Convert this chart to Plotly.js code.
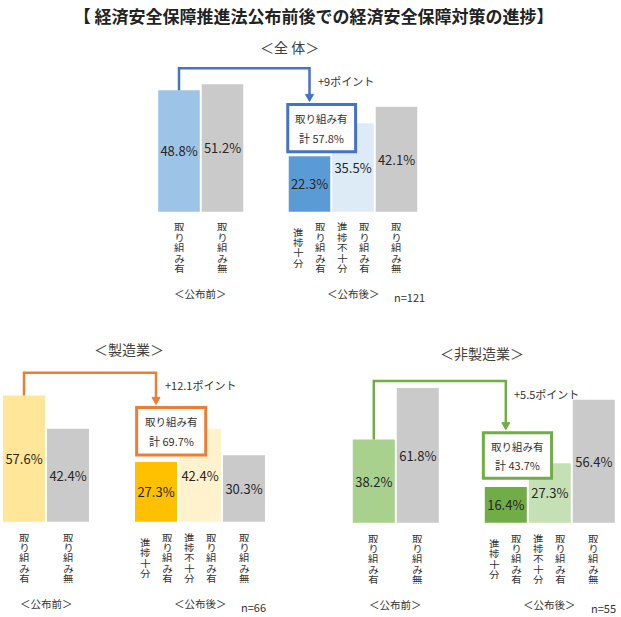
<!DOCTYPE html>
<html>
<head>
<meta charset="utf-8">
<script src="https://cdn.plot.ly/plotly-3.0.1.min.js"></script>
<style>
  html, body { margin: 0; padding: 0; background: #fff; }
  #chart { width: 621px; height: 617px; }
</style>
</head>
<body>
<div id="chart"></div>
<script>
// values (percent)
const panelTitles = ["＜全 体＞", "＜製造業＞", "＜非製造業＞"];
const beforeYes = [48.8, 57.6, 38.2];
const beforeNo = [51.2, 42.4, 61.8];
const afterEnough = [22.3, 27.3, 16.4];
const afterNotEnough = [35.5, 42.4, 27.3];
const afterNo = [42.1, 30.3, 56.4];
const afterYesTotal = [57.8, 69.7, 43.7];
const pointDiff = ["+9", "+12.1", "+5.5"];
const sampleSize = [121, 66, 55];
const barLabels = [
  ["取り組み有"],
  ["取り組み無"],
  ["進捗十分", "取り組み有"],
  ["進捗不十分", "取り組み有"],
  ["取り組み無"],
];
const periodLabels = ["＜公布前＞", "＜公布後＞"];
const boxLabel = "取り組み有";
const mainTitle = "【 経済安全保障推進法公布前後での経済安全保障対策の進捗】";

const W = 621, H = 617;
const FONT = '"Noto Sans CJK JP", "Noto Sans", sans-serif';
const GRAY = "#CBCACA";

// bar slots: two bars before, gap, three bars after
const barSlots = [0, 1, 3, 4, 5];

// layout of each panel (pixel calibration + decorations)
const panels = [
  { u0: 179, upx: 43.5, y0: 211.7, ypx: 2.49, xr: [-0.6, 5.6], yr: [-2, 62],
    rise: 57.6, boxTop: 43.1, boxBottom: 24.1, boxX: [2.5, 4.06], title: [289, 46.7],
    line: "#4472C4", colors: ["#9DC3E6", "#5B9BD5", "#DDEBF7"] },
  { u0: 24, upx: 44, y0: 521.7, ypx: 2.19, xr: [-0.5, 5.6], yr: [-2, 72],
    rise: 68.0, boxTop: 52.2, boxBottom: 30.5, boxX: [2.56, 4.13], title: [129, 349.3],
    line: "#ED7D31", colors: ["#FFE699", "#FFC000", "#FFF2CC"] },
  { u0: 373.8, upx: 44, y0: 522.7, ypx: 2.18, xr: [-0.5, 5.6], yr: [-2, 72],
    rise: 65.0, boxTop: 41.3, boxBottom: 20.4, boxX: [2.49, 4.04], title: [481.7, 353.3],
    line: "#70AD47", colors: ["#A9D18E", "#70AD47", "#C5E0B4"] },
];

const traces = [];
const annotations = [];
const shapes = [];
const layout = {
  width: W, height: H,
  margin: { l: 0, r: 0, t: 0, b: 0 },
  paper_bgcolor: "#fff", plot_bgcolor: "rgba(0,0,0,0)",
  showlegend: false,
  font: { family: FONT, color: "#333", size: 11 },
  title: {
    text: mainTitle, x: 0.505, y: 1 - 17 / H, xanchor: "center", yanchor: "middle",
    font: { family: FONT, size: 17, weight: "bold", color: "#222" },
  },
};

panels.forEach((p, k) => {
  const s = k === 0 ? "" : String(k + 1);
  const xref = "x" + s, yref = "y" + s;

  // axes placed so the bars land where they are in the reference
  layout["xaxis" + s] = {
    range: p.xr, visible: false, fixedrange: true,
    domain: [(p.u0 + p.xr[0] * p.upx) / W, (p.u0 + p.xr[1] * p.upx) / W],
  };
  layout["yaxis" + s] = {
    range: p.yr, visible: false, fixedrange: true,
    domain: [1 - (p.y0 - p.yr[0] * p.ypx) / H, 1 - (p.y0 - p.yr[1] * p.ypx) / H],
  };

  const values = [beforeYes[k], beforeNo[k], afterEnough[k], afterNotEnough[k], afterNo[k]];
  traces.push({
    type: "bar",
    x: barSlots,
    y: values,
    width: 0.955,
    xaxis: xref, yaxis: yref,
    marker: { color: [p.colors[0], GRAY, p.colors[1], p.colors[2], GRAY] },
    texttemplate: "%{y:.1f}%",
    textposition: "inside",
    insidetextanchor: "middle",
    textangle: 0,
    constraintext: "none",
    textfont: { size: 13, color: "#262626", family: FONT },
    cliponaxis: false,
    hoverinfo: "skip",
  });

  // vertical category labels, one annotation per character
  barLabels.forEach((cols, j) => {
    cols.forEach((col, c) => {
      const xshift = cols.length === 1 ? 0 : (c === 0 ? -11 : 11);
      const chars = Array.from(col);
      chars.forEach((ch, i) => {
        annotations.push({
          xref, yref, x: barSlots[j], y: 0, text: ch, showarrow: false,
          xanchor: "center", yanchor: "middle", xshift,
          yshift: -(35.6 + (i - (chars.length - 1) / 2) * 10.4),
          height: 10, width: 11, borderpad: 0,
          font: { size: 10.5 },
        });
      });
    });
  });

  // period labels under each group
  [0.5, 4].forEach((x, i) => {
    annotations.push({
      xref, yref, x, y: 0, text: periodLabels[i], showarrow: false,
      yanchor: "middle", yshift: -81.6, font: { size: 10.5 },
    });
  });
  annotations.push({
    xref, yref, x: barSlots[4], y: 0, text: "n=" + sampleSize[k], showarrow: false,
    xanchor: "left", yanchor: "middle", xshift: -5, yshift: -85, font: { size: 11 },
  });

  // connector from "before" bar to the "after" total box
  const tipV = p.boxTop + 3 / p.ypx;
  const baseV = tipV + 7 / p.ypx;
  shapes.push({
    type: "path", xref, yref, layer: "above",
    path: `M0,${beforeYes[k]} V${p.rise} H3 V${baseV}`,
    line: { color: p.line, width: 2.5 },
  });
  shapes.push({
    type: "path", xref, yref, layer: "above",
    path: `M${3 - 4 / p.upx},${baseV} L${3 + 4 / p.upx},${baseV} L3,${tipV} Z`,
    line: { color: p.line, width: 1 }, fillcolor: p.line,
  });
  annotations.push({
    xref, yref, x: 3.15, y: p.rise, text: pointDiff[k] + "ポイント", showarrow: false,
    xanchor: "left", yanchor: "middle", yshift: -12.5, font: { size: 11 },
  });

  // total box
  shapes.push({
    type: "rect", xref, yref, layer: "above",
    x0: p.boxX[0], x1: p.boxX[1], y0: p.boxBottom, y1: p.boxTop,
    line: { color: p.line, width: 3 }, fillcolor: "#fff",
  });
  const bx = (p.boxX[0] + p.boxX[1]) / 2;
  annotations.push({
    xref, yref, x: bx, y: p.boxTop, text: boxLabel, showarrow: false,
    yanchor: "middle", yshift: -13.7, font: { size: 10.5 },
  });
  annotations.push({
    xref, yref, x: bx, y: p.boxBottom, text: "計 " + afterYesTotal[k].toFixed(1) + "%",
    showarrow: false, yanchor: "middle", yshift: 13.7, font: { size: 11 },
  });

  // panel title
  annotations.push({
    xref: "paper", yref: "paper", x: p.title[0] / W, y: 1 - p.title[1] / H,
    text: panelTitles[k], showarrow: false, xanchor: "center", yanchor: "middle",
    font: { size: 14, color: "#404040" },
  });
});

layout.annotations = annotations;
layout.shapes = shapes;

Plotly.newPlot("chart", traces, layout, { displayModeBar: false, staticPlot: true });
</script>
</body>
</html>
